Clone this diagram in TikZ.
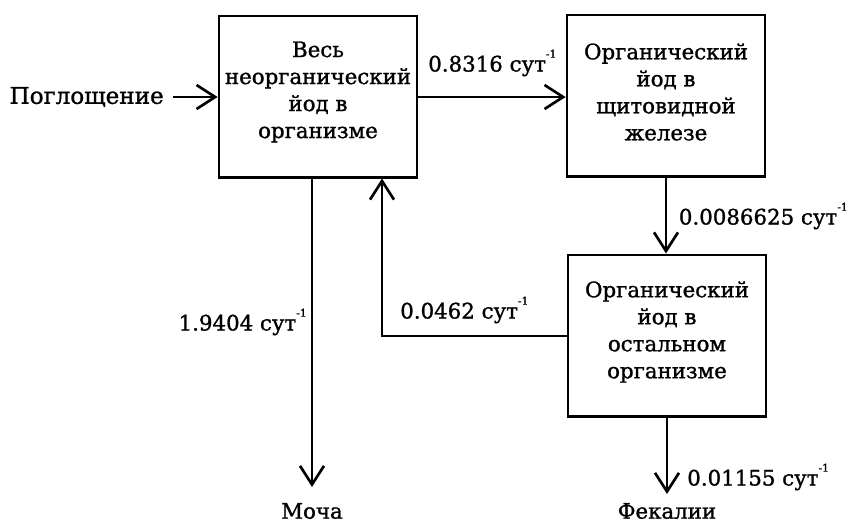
\documentclass[tikz,border=0pt]{standalone}
\usepackage{fontspec}
\setmainfont{DejaVu Serif}[FakeBold=1.2]
\usetikzlibrary{arrows.meta}
\newcommand{\perday}{сут\raisebox{1.25ex}{\fontsize{8}{8}\selectfont -1}}
\tikzset{
  every node/.style={font=\fontsize{16}{20.25}\selectfont},
  box/.style={draw, line width=2pt, minimum width=148.5pt, minimum height=121pt, inner sep=0pt},
  txt/.style={align=center, inner sep=0pt},
  flow/.style={line width=2pt, -{Straight Barb[length=14pt, width=18pt, line width=2pt]}}
}
\begin{document}
\begin{tikzpicture}[x=0.75pt, y=-0.75pt]
\useasboundingbox (0,0) rectangle (851,529);
% boxes
\node[box] (b1) at (318,96.5) {};
\node[box] (b2) at (666,95.5) {};
\node[box] (b3) at (667,335.5) {};
% box texts
\node[txt] (t1) at (318,92) {Весь\\неорганический\\йод в\\организме};
\node[txt] (t2) at (666,92) {Органический\\йод в\\щитовидной\\железе};
\node[txt] (t3) at (667,332) {Органический\\йод в\\остальном\\организме};
% outer labels
\node[txt, anchor=east, font=\fontsize{17.3}{21}\selectfont] (in) at (164,97) {Поглощение};
\node[txt] (mocha) at (312,511) {Моча};
\node[txt] (fek) at (667,511) {Фекалии};
% coordinates
\coordinate (inS) at (173,97);
\coordinate (d1) at (312,487);
\coordinate (u1) at (382,336);
\coordinate (d3) at (667,494);
% connectors
\draw[flow] (inS) -- (b1.west |- inS);
\draw[flow] (b1.east |- 0,97) -- (b2.west |- 0,97);
\draw[flow] (b1.south -| d1) -- (d1);
\draw[flow] (b3.west |- u1) -- (u1) -- (u1 |- b1.south);
\draw[flow] (b2.south -| 666,0) -- (b3.north -| 666,0);
\draw[flow] (b3.south -| d3) -- (d3);
% rate labels
\node[txt, anchor=west] (r1) at (428,63) {0.8316 \perday};
\node[txt, anchor=east] (r2) at (307,322) {1.9404 \perday};
\node[txt, anchor=west] (r3) at (400,310) {0.0462 \perday};
\node[txt, anchor=east] (r4) at (848,216) {0.0086625 \perday};
\node[txt, anchor=west] (r5) at (687,477) {0.01155 \perday};
\end{tikzpicture}
\end{document}
